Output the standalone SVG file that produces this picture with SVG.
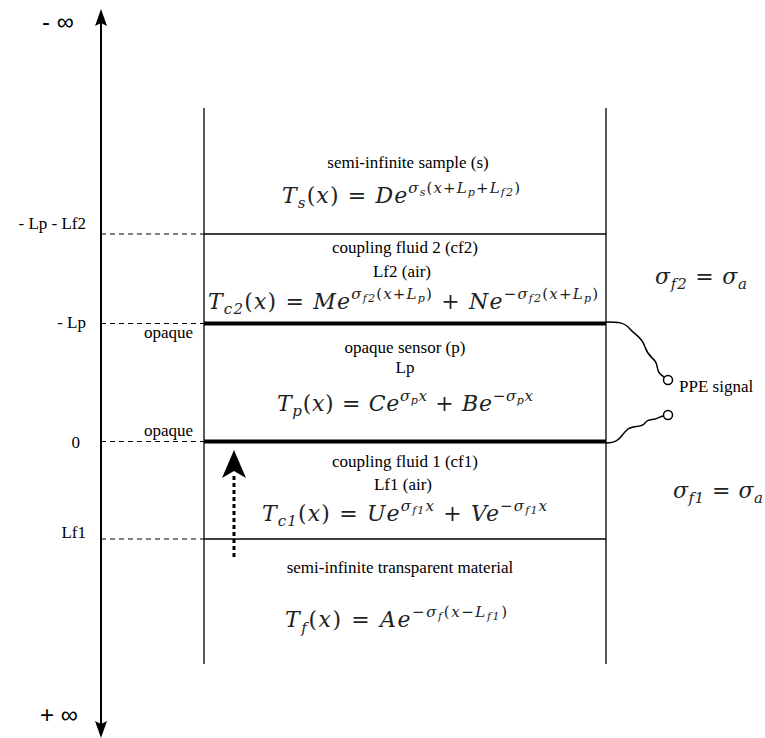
<svg xmlns="http://www.w3.org/2000/svg" width="765" height="738" viewBox="0 0 765 738">
<style>
.lbl{font-family:'Liberation Serif','Times New Roman',serif;font-size:17px;fill:#000}
.ax{font-family:'Liberation Serif','Times New Roman',serif;font-size:17px;fill:#000}
.inf{font-family:'Liberation Sans',Arial,sans-serif;font-size:24px;fill:#000}
.eq{font-family:'DejaVu Serif','Liberation Serif',serif;font-style:italic;font-size:22px;fill:#222}
.n{font-style:normal}
.s{font-size:15px}
.p{font-size:15px}
.pn{font-size:15px;font-style:normal}
.ps{font-size:11px}
.thin{stroke:#000;stroke-width:1.3;fill:none}
.thick{stroke:#000;stroke-width:4;fill:none}
.dash{stroke:#000;stroke-width:1;stroke-dasharray:5,4;fill:none}
.wire{stroke:#000;stroke-width:1.5;fill:none}
</style>
<rect width="765" height="738" fill="#fff"/>

<g id="connectors">
  <line x1="101" y1="20" x2="101" y2="728" stroke="#000" stroke-width="2"/>
  <path d="M101,9 L107,26 L101,23 L95,26 Z" fill="#000"/>
  <path d="M101,738 L107,721 L101,724 L95,721 Z" fill="#000"/>
  <line class="dash" x1="101" y1="234" x2="204" y2="234"/>
  <line class="dash" x1="101" y1="323.5" x2="204" y2="323.5"/>
  <line class="dash" x1="101" y1="441.5" x2="204" y2="441.5"/>
  <line class="dash" x1="101" y1="539" x2="204" y2="539"/>
  <path class="wire" d="M606,322 C618,322 624,322 630,329 C636,336 642,337 645,347 C648,356 652,357 655,361 C659,366 655,372 664,377"/>
  <circle cx="668" cy="380" r="4.5" fill="#fff" stroke="#000" stroke-width="1.5"/>
  <path class="wire" d="M606,443 C620,443 620,436 627,430 C632,425 640,428 644,424 C648,419 650,420 655,419 C659,418 661,416 664,416"/>
  <circle cx="668" cy="415" r="4.5" fill="#fff" stroke="#000" stroke-width="1.5"/>
  <line x1="234" y1="557" x2="234" y2="474" stroke="#000" stroke-width="3" stroke-dasharray="4,3"/>
  <path d="M234,450 L246,478 L234,471 L222,478 Z" fill="#000"/>
</g>

<g id="axis-labels">
  <text class="inf" x="42" y="30">- ∞</text>
  <text class="inf" x="40" y="723">+ ∞</text>
  <text class="ax" x="86" y="229" text-anchor="end">- Lp - Lf2</text>
  <text class="ax" x="86" y="328" text-anchor="end">- Lp</text>
  <text class="ax" x="80" y="448" text-anchor="end">0</text>
  <text class="ax" x="86" y="538" text-anchor="end">Lf1</text>
  <text class="ax" x="193" y="338" text-anchor="end">opaque</text>
  <text class="ax" x="193" y="436" text-anchor="end">opaque</text>
</g>

<g id="box">
  <line class="thin" x1="204" y1="108" x2="204" y2="664"/>
  <line class="thin" x1="606" y1="108" x2="606" y2="664"/>
  <line class="thin" x1="204" y1="234" x2="606" y2="234"/>
  <line class="thick" x1="204" y1="323.5" x2="606" y2="323.5"/>
  <line class="thick" x1="204" y1="441.5" x2="606" y2="441.5"/>
  <line class="thin" x1="204" y1="539" x2="606" y2="539"/>
</g>

<g id="sample">
  <text class="lbl" x="408" y="168" text-anchor="middle">semi-infinite sample (s)</text>
  <text class="eq" x="282" y="203" textLength="238" lengthAdjust="spacing">T<tspan class="s" dy="5">s</tspan><tspan class="n" dy="-5">(</tspan>x<tspan class="n">) = </tspan>De<tspan class="p" dy="-10">σ</tspan><tspan class="ps" dy="3">s</tspan><tspan class="pn" dy="-3">(</tspan><tspan class="p">x</tspan><tspan class="pn">+</tspan><tspan class="p">L</tspan><tspan class="ps" dy="3">p</tspan><tspan class="pn" dy="-3">+</tspan><tspan class="p">L</tspan><tspan class="ps" dy="3">f2</tspan><tspan class="pn" dy="-3">)</tspan></text>
</g>

<g id="coupling-fluid-2">
  <text class="lbl" x="405" y="253" text-anchor="middle">coupling fluid 2 (cf2)</text>
  <text class="lbl" x="402" y="277" text-anchor="middle">Lf2 (air)</text>
  <text class="eq" x="208" y="309" textLength="390" lengthAdjust="spacing">T<tspan class="s" dy="5">c2</tspan><tspan class="n" dy="-5">(</tspan>x<tspan class="n">) = </tspan>Me<tspan class="p" dy="-10">σ</tspan><tspan class="ps" dy="3">f2</tspan><tspan class="pn" dy="-3">(</tspan><tspan class="p">x</tspan><tspan class="pn">+</tspan><tspan class="p">L</tspan><tspan class="ps" dy="3">p</tspan><tspan class="pn" dy="-3">)</tspan><tspan class="n" dy="10"> + </tspan>Ne<tspan class="pn" dy="-10">−</tspan><tspan class="p">σ</tspan><tspan class="ps" dy="3">f2</tspan><tspan class="pn" dy="-3">(</tspan><tspan class="p">x</tspan><tspan class="pn">+</tspan><tspan class="p">L</tspan><tspan class="ps" dy="3">p</tspan><tspan class="pn" dy="-3">)</tspan></text>
</g>

<g id="sensor">
  <text class="lbl" x="405" y="353" text-anchor="middle">opaque sensor (p)</text>
  <text class="lbl" x="405" y="373" text-anchor="middle">Lp</text>
  <text class="eq" x="277" y="411" textLength="256" lengthAdjust="spacing">T<tspan class="s" dy="5">p</tspan><tspan class="n" dy="-5">(</tspan>x<tspan class="n">) = </tspan>Ce<tspan class="p" dy="-10">σ</tspan><tspan class="ps" dy="3">p</tspan><tspan class="p" dy="-3">x</tspan><tspan class="n" dy="10"> + </tspan>Be<tspan class="pn" dy="-10">−</tspan><tspan class="p">σ</tspan><tspan class="ps" dy="3">p</tspan><tspan class="p" dy="-3">x</tspan></text>
</g>

<g id="coupling-fluid-1">
  <text class="lbl" x="405" y="467" text-anchor="middle">coupling fluid 1 (cf1)</text>
  <text class="lbl" x="403" y="490" text-anchor="middle">Lf1 (air)</text>
  <text class="eq" x="262" y="521" textLength="285" lengthAdjust="spacing">T<tspan class="s" dy="5">c1</tspan><tspan class="n" dy="-5">(</tspan>x<tspan class="n">) = </tspan>Ue<tspan class="p" dy="-10">σ</tspan><tspan class="ps" dy="3">f1</tspan><tspan class="p" dy="-3">x</tspan><tspan class="n" dy="10"> + </tspan>Ve<tspan class="pn" dy="-10">−</tspan><tspan class="p">σ</tspan><tspan class="ps" dy="3">f1</tspan><tspan class="p" dy="-3">x</tspan></text>
</g>

<g id="transparent-material">
  <text class="lbl" x="400" y="573" text-anchor="middle">semi-infinite transparent material</text>
  <text class="eq" x="285" y="627" textLength="222" lengthAdjust="spacing">T<tspan class="s" dy="6">f</tspan><tspan class="n" dy="-6">(</tspan>x<tspan class="n">) = </tspan>Ae<tspan class="pn" dy="-10">−</tspan><tspan class="p">σ</tspan><tspan class="ps" dy="3">f</tspan><tspan class="pn" dy="-3">(</tspan><tspan class="p">x</tspan><tspan class="pn">−</tspan><tspan class="p">L</tspan><tspan class="ps" dy="3">f1</tspan><tspan class="pn" dy="-3">)</tspan></text>
</g>

<g id="side-labels">
  <text class="eq" x="655" y="284" textLength="92" lengthAdjust="spacing">σ<tspan class="s" dy="5">f2</tspan><tspan class="n" dy="-5"> = </tspan>σ<tspan class="s" dy="5">a</tspan></text>
  <text class="eq" x="673" y="498" textLength="90" lengthAdjust="spacing">σ<tspan class="s" dy="5">f1</tspan><tspan class="n" dy="-5"> = </tspan>σ<tspan class="s" dy="5">a</tspan></text>
  <text class="lbl" x="679" y="392">PPE signal</text>
</g>
</svg>
